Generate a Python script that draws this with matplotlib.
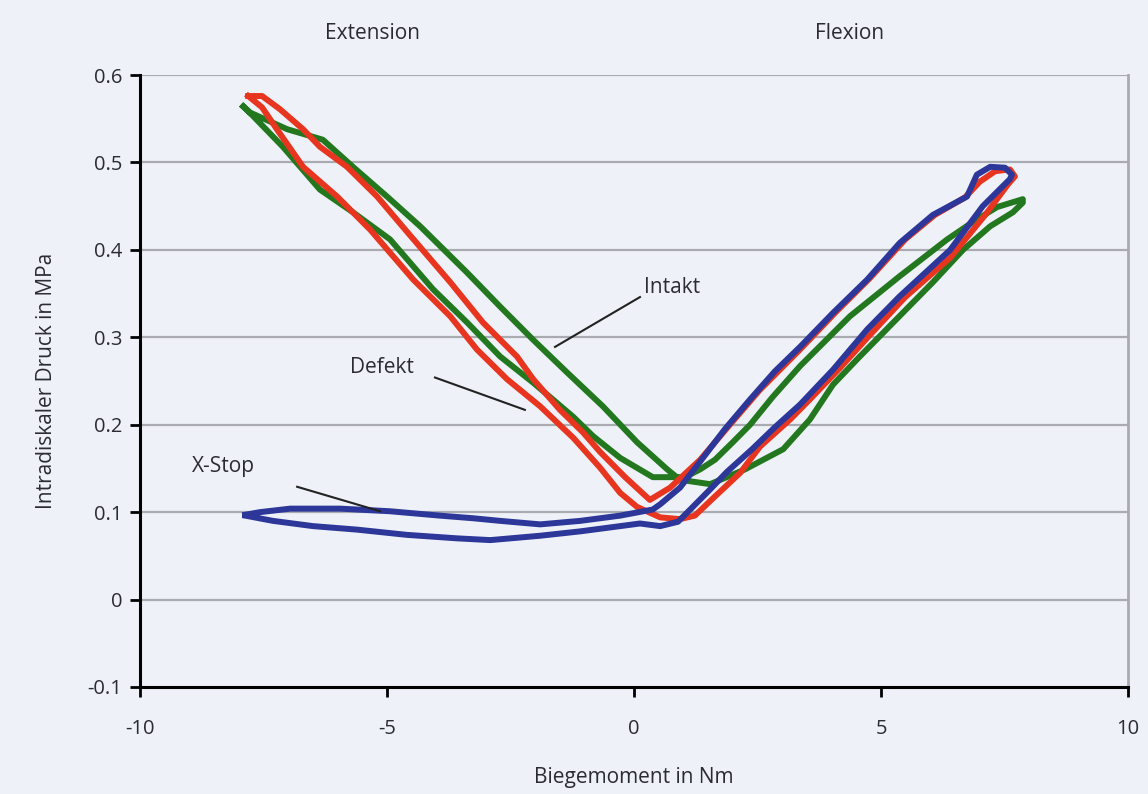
import matplotlib
matplotlib.use("Agg")
import matplotlib.pyplot as plt

# ---------------- data (Biegemoment [Nm], Druck [MPa]) ----------------
intakt_x = [-7.91, -7.77, -7.02, -6.30, -5.69, -5.00, -4.33, -3.38, -2.71, -2.04, -1.36, -0.63, 0.06, 0.67,
            0.93, 1.54, 2.25, 3.02, 3.56, 4.03, 4.57, 5.04, 6.05, 6.66, 7.21, 7.67, 7.87,
            7.87, 7.35, 6.86, 6.34, 5.38, 4.37, 3.36, 2.81, 2.35, 2.00, 1.64, 1.34, 1.03,
            0.38, -0.28, -0.83, -1.23, -2.04, -2.71, -3.38, -4.07, -4.94, -5.69, -6.36, -7.11, -7.71, -7.91]
intakt_y = [0.564, 0.557, 0.538, 0.526, 0.495, 0.461, 0.427, 0.374, 0.335, 0.297, 0.260, 0.221, 0.180, 0.149,
            0.137, 0.132, 0.149, 0.172, 0.206, 0.246, 0.278, 0.305, 0.363, 0.400, 0.427, 0.443, 0.454,
            0.458, 0.449, 0.432, 0.412, 0.370, 0.324, 0.267, 0.232, 0.200, 0.180, 0.160, 0.149, 0.140,
            0.140, 0.162, 0.187, 0.209, 0.248, 0.278, 0.317, 0.355, 0.412, 0.443, 0.469, 0.518, 0.553, 0.564]

defekt_x = [-7.81, -7.53, -7.23, -6.70, -6.01, -5.34, -4.47, -3.72, -3.18, -2.57, -1.90, -1.23, -0.69, -0.28,
            0.06, 0.53, 0.93, 1.23,
            1.64, 2.15, 2.55, 3.16, 3.56, 4.17, 4.78, 5.49, 6.40, 7.11, 7.57, 7.71,
            7.61, 7.31, 7.00, 6.70, 6.09, 5.49, 4.78, 4.07, 3.36, 2.55, 1.94, 1.34, 0.73, 0.32,
            -0.18, -0.69, -1.03, -1.50, -2.04, -2.37, -3.06, -3.72, -4.60, -5.20, -5.81, -6.36, -6.70,
            -7.17, -7.53, -7.81]
defekt_y = [0.576, 0.563, 0.538, 0.495, 0.461, 0.423, 0.366, 0.324, 0.286, 0.252, 0.221, 0.185, 0.151, 0.122,
            0.106, 0.094, 0.092, 0.096,
            0.118, 0.145, 0.175, 0.206, 0.229, 0.265, 0.303, 0.346, 0.391, 0.440, 0.475, 0.484,
            0.492, 0.490, 0.478, 0.460, 0.440, 0.412, 0.368, 0.328, 0.286, 0.240, 0.200, 0.160, 0.128, 0.114,
            0.140, 0.169, 0.191, 0.217, 0.252, 0.278, 0.317, 0.363, 0.421, 0.461, 0.495, 0.518, 0.538,
            0.561, 0.576, 0.576]

xstop_x = [-7.87, -7.57, -6.96, -5.95, -4.94, -3.93, -3.26, -2.71, -1.90, -1.09, -0.28, 0.38,
           0.53, 0.93, 1.34, 1.84, 2.35, 2.85, 3.36, 4.03, 4.72, 5.38, 6.05, 6.74, 6.94, 7.21, 7.51, 7.65,
           7.61, 7.06, 6.40, 5.38, 4.72, 4.03, 3.36, 2.85, 2.39, 1.88, 1.54, 1.19, 0.89, 0.53, 0.12,
           -0.28, -1.09, -1.90, -2.91, -3.58, -4.60, -5.61, -6.50, -7.31, -7.87]
xstop_y = [0.097, 0.100, 0.104, 0.104, 0.101, 0.096, 0.093, 0.090, 0.086, 0.090, 0.096, 0.103,
           0.109, 0.128, 0.158, 0.195, 0.229, 0.261, 0.289, 0.328, 0.366, 0.408, 0.440, 0.461, 0.486, 0.495, 0.494, 0.486,
           0.481, 0.450, 0.400, 0.347, 0.309, 0.263, 0.223, 0.197, 0.172, 0.146, 0.126, 0.106, 0.089, 0.084, 0.087,
           0.084, 0.078, 0.073, 0.068, 0.070, 0.074, 0.080, 0.084, 0.090, 0.096]

x_ticks = [-10, -5, 0, 5, 10]
y_ticks = [-0.1, 0, 0.1, 0.2, 0.3, 0.4, 0.5, 0.6]
y_tick_labels = ["-0.1", "0", "0.1", "0.2", "0.3", "0.4", "0.5", "0.6"]

# ---------------- style ----------------
plt.rcParams['font.family'] = ['Open Sans', 'DejaVu Sans']
bg = '#eef2f8'
txt = '#2b2b33'
fs = 15

fig = plt.figure(figsize=(11.48, 7.94), dpi=100, facecolor=bg)
ax = fig.add_axes([0.122, 0.1348, 0.8606, 0.7707], facecolor=bg)

ax.set_xlim(-10, 10)
ax.set_ylim(-0.1, 0.6)

for gy in y_ticks[1:]:
    ax.axhline(gy, color='#a9abb0', lw=1.6, zorder=1)

lw = 4.3
ax.plot(intakt_x, intakt_y, color='#23781f', lw=lw, zorder=3, solid_joinstyle='round')
ax.plot(defekt_x, defekt_y, color='#e8351f', lw=lw, zorder=4, solid_joinstyle='round')
ax.plot(xstop_x, xstop_y, color='#2d3799', lw=lw, zorder=5, solid_joinstyle='round')

# spines
ax.spines['top'].set_visible(False)
ax.spines['left'].set_color('black')
ax.spines['left'].set_linewidth(2.2)
ax.spines['bottom'].set_color('black')
ax.spines['bottom'].set_linewidth(2.2)
ax.spines['right'].set_color('#a9abb0')
ax.spines['right'].set_linewidth(2.0)

ax.set_xticks(x_ticks)
ax.set_xticklabels([str(v) for v in x_ticks])
ax.set_yticks(y_ticks)
ax.set_yticklabels(y_tick_labels)
ax.tick_params(axis='both', direction='out', length=7, width=2, color='black',
               labelsize=14.5, labelcolor=txt)
ax.tick_params(axis='x', pad=16)
ax.tick_params(axis='y', pad=6)

ax.set_xlabel("Biegemoment in Nm", fontsize=fs, color=txt, labelpad=20)
ax.set_ylabel("Intradiskaler Druck in MPa", fontsize=fs, color=txt, labelpad=22)

# annotations
ax.text(-5.3, 0.648, "Extension", fontsize=fs, color=txt, ha='center', va='center', clip_on=False)
ax.text(4.37, 0.648, "Flexion", fontsize=fs, color=txt, ha='center', va='center', clip_on=False)

ax.text(0.2, 0.357, "Intakt", fontsize=fs, color=txt, ha='left', va='center', zorder=6)
ax.plot([0.12, -1.60], [0.346, 0.289], color='#222222', lw=1.5, zorder=6)

ax.text(-5.75, 0.265, "Defekt", fontsize=fs, color=txt, ha='left', va='center', zorder=6)
ax.plot([-4.03, -2.21], [0.254, 0.217], color='#222222', lw=1.5, zorder=6)

ax.text(-8.95, 0.152, "X-Stop", fontsize=fs, color=txt, ha='left', va='center', zorder=6)
ax.plot([-6.82, -5.14], [0.129, 0.101], color='#222222', lw=1.5, zorder=6)

fig.savefig("out.png", dpi=100, facecolor=bg)
